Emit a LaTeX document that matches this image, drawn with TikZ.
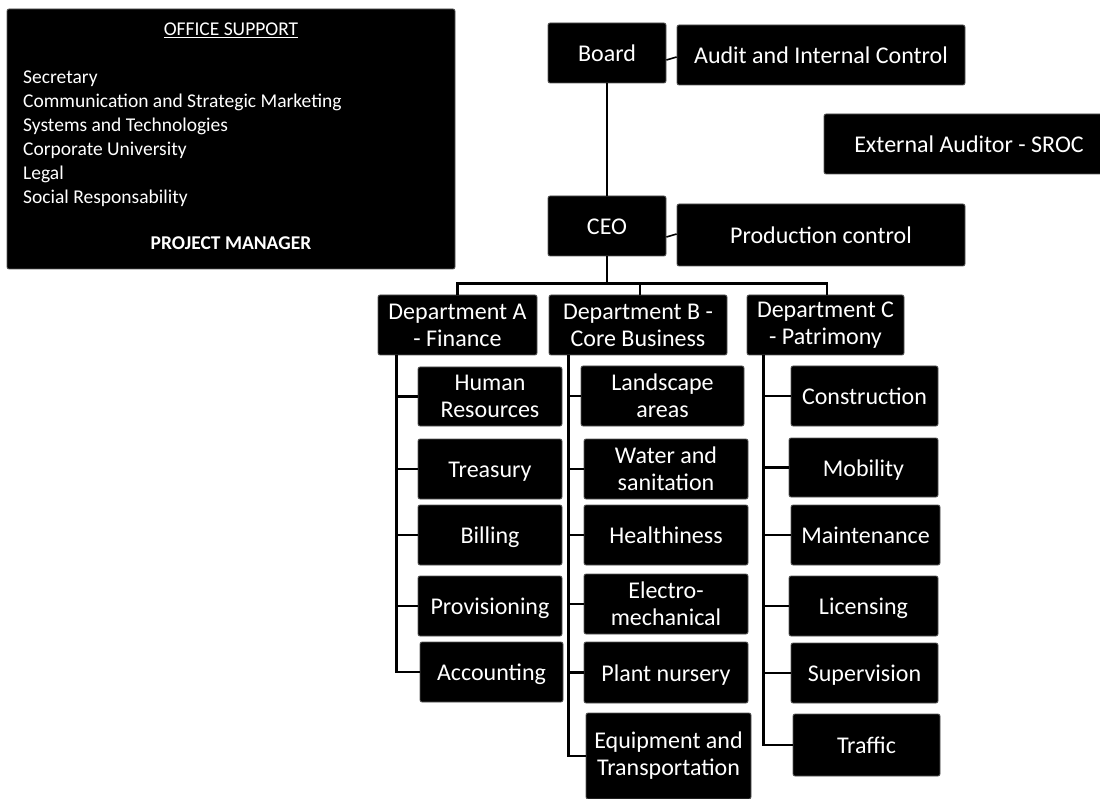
\documentclass[tikz,border=0pt]{standalone}
\usepackage{fontspec}
\setmainfont{Carlito}
\tikzset{
  box/.style={fill=black, draw=black!65, line width=0.8pt, rounded corners=2pt,
    text=white, align=center, inner sep=0pt,
    font=\fontsize{24}{27}\selectfont},
  one/.style={box, text height=17pt, text depth=0pt},
  small/.style={text=white, inner sep=0pt, font=\fontsize{19.5}{24}\selectfont},
  link/.style={draw=black, line width=2.3pt},
}
\begin{document}
\begin{tikzpicture}[x=1pt,y=-1pt]
\useasboundingbox (0,0) rectangle (1100,799);
% office support
\node[box, minimum width=448pt, minimum height=260pt] (office) at (231,139) {};
\node[small, anchor=base] (ostitle) at (231,36) {\underline{OFFICE SUPPORT}};
\node[small, anchor=base west] (os1) at (23,84) {Secretary};
\node[small, anchor=base west] (os2) at (23,108) {Communication and Strategic Marketing};
\node[small, anchor=base west] (os3) at (23,132) {Systems and Technologies};
\node[small, anchor=base west] (os4) at (23,156) {Corporate University};
\node[small, anchor=base west] (os5) at (23,180) {Legal};
\node[small, anchor=base west] (os6) at (23,204) {Social Responsability};
\node[small, anchor=base, font=\fontsize{19.5}{24}\selectfont\bfseries] (pm) at (231,250) {PROJECT MANAGER};
% top
\node[one, minimum width=118pt, minimum height=60pt] (board) at (607,53) {Board};
\node[one, minimum width=288pt, minimum height=60pt] (audit) at (821,55) {Audit and Internal Control};
\node[one, minimum width=290pt, minimum height=60pt] (ext) at (969,144) {External Auditor - SROC};
\node[one, minimum width=118pt, minimum height=60pt] (ceo) at (607,226) {CEO};
\node[one, minimum width=288pt, minimum height=62pt] (prod) at (821,235) {Production control};
% departments
\node[box, minimum width=159pt, minimum height=60pt] (deptA) at (457.5,325) {Department A\\- Finance};
\node[box, minimum width=178pt, minimum height=60pt] (deptB) at (638,325) {Department B -\\Core Business};
\node[box, minimum width=157pt, minimum height=60pt] (deptC) at (825.5,325) {Department C\\- Patrimony};
% A children
\node[box, minimum width=144pt, minimum height=59pt] (hr) at (490,396.5) {Human\\Resources};
\node[one, minimum width=144pt, minimum height=60pt] (treas) at (490,469) {Treasury};
\node[one, minimum width=144pt, minimum height=60pt] (bill) at (490,535) {Billing};
\node[one, minimum width=144pt, minimum height=60pt] (prov) at (490,606) {Provisioning};
\node[one, minimum width=143pt, minimum height=60pt] (acct) at (491.5,672) {Accounting};
% B children
\node[box, minimum width=163pt, minimum height=60pt] (land) at (662.5,396) {Landscape\\areas};
\node[box, minimum width=164pt, minimum height=60pt] (water) at (666,469) {Water and\\sanitation};
\node[one, minimum width=164pt, minimum height=60pt] (health) at (666,535) {Healthiness};
\node[box, minimum width=164pt, minimum height=60pt] (electro) at (666,604) {Electro-\\mechanical};
\node[one, minimum width=164pt, minimum height=61pt] (plant) at (666,672.5) {Plant nursery};
\node[box, minimum width=165pt, minimum height=86pt] (equip) at (668.5,756) {Equipment and\\Transportation};
% C children
\node[one, minimum width=147pt, minimum height=60pt] (constr) at (864.5,396) {Construction};
\node[one, minimum width=149pt, minimum height=59pt] (mob) at (863.5,467.5) {Mobility};
\node[one, minimum width=149pt, minimum height=60pt] (maint) at (865.5,535) {Maintenance};
\node[one, minimum width=149pt, minimum height=60pt] (lic) at (863.5,606) {Licensing};
\node[one, minimum width=147pt, minimum height=60pt] (sup) at (864.5,673) {Supervision};
\node[one, minimum width=147pt, minimum height=62pt] (traffic) at (866.5,745) {Traffic};
% connectors
\draw[link] (board.south) -- (ceo.north);
\draw[link, line width=1.6pt] ([yshift=-7pt]board.east) -- ([yshift=-2pt]audit.west);
\draw[link, line width=1.6pt] ([yshift=-11pt]ceo.east) -- ([yshift=1pt]prod.west);
\draw[link] (ceo.south) -- ++(0,27) -| (deptA.north);
\draw[link] (ceo.south) -- ++(0,27) -| ([xshift=2pt]deptB.north);
\draw[link] (ceo.south) -- ++(0,27) -| ([xshift=1.5pt]deptC.north);
\foreach \c in {hr,treas,bill,prov,acct}
  \draw[link] (deptA.south west) ++(19,0) |- (\c.west);
\foreach \c in {land,water,health,electro,plant,equip}
  \draw[link] (deptB.south west) ++(20,0) |- (\c.west);
\foreach \c in {constr,mob,maint,lic,sup,traffic}
  \draw[link] (deptC.south west) ++(17,0) |- (\c.west);
\end{tikzpicture}
\end{document}
